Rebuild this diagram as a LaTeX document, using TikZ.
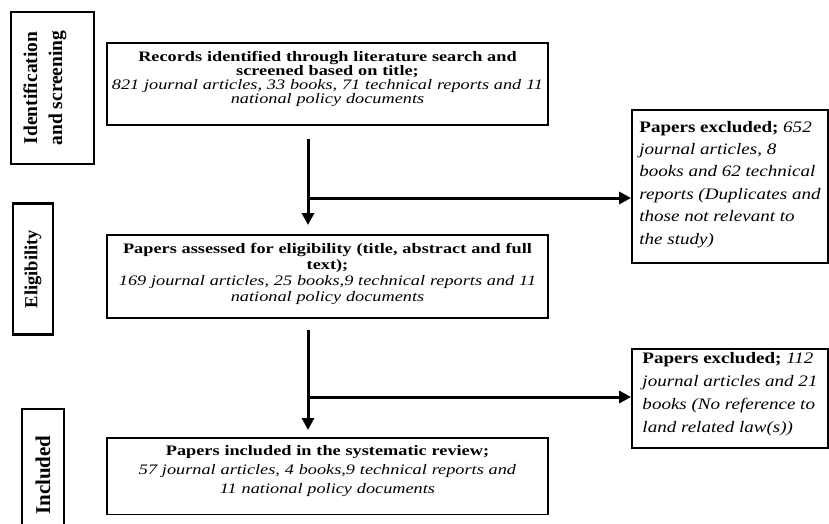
\documentclass[tikz,border=0pt]{standalone}
\usepackage{fontspec}
\setmainfont{Liberation Serif}
\newfontfamily\stepfont{Liberation Serif}[FakeStretch=1.26]
\newfontfamily\exclfont{Liberation Serif}[FakeStretch=1.19]
\usetikzlibrary{arrows.meta}

\begin{document}
\begin{tikzpicture}[x=1pt, y=-1pt, line join=miter, >={Triangle[length=12pt, width=12pt]},
  stagebox/.style={draw, line width=2.4pt, rotate=90, align=center, inner sep=0pt},
  flowbox/.style={draw, line width=1.8pt, anchor=north, text width=437pt, inner xsep=2pt,
    inner ysep=8pt, align=center},
  exclbox/.style={draw, line width=1.8pt, anchor=north, minimum width=196pt, align=left,
    font=\exclfont\fontsize{16}{22.4}\selectfont},
  flow/.style={->, line width=3pt}]

  % ===== Frame =====
  \useasboundingbox (0,0) rectangle (829,523);

  % ===== Stage labels =====
  \node[stagebox, minimum width=152pt, minimum height=83pt, inner ysep=12.5pt, text depth=19.5pt,
        font=\bfseries\fontsize{19.5}{25}\selectfont] (idstage) at (52.5,88)
       {Identification\\and screening};
  \node[stagebox, minimum width=131pt, minimum height=40pt,
        font=\bfseries\fontsize{18.5}{22}\selectfont] (elstage) at (33,269) {Eligibility};
  \node[stagebox, minimum width=132pt, minimum height=42pt,
        font=\bfseries\fontsize{21}{25}\selectfont] (instage) at (43,475) {Included};

  % ===== Flow boxes =====
  \node[flowbox, text depth=56pt, font=\stepfont\fontsize{14.5}{14.2}\selectfont] (recbox) at (327.5,42)
       {\textbf{Records identified through literature search and}\\
        \textbf{screened based on title;}\\
        \textit{821 journal articles, 33 books, 71 technical reports and 11}\\
        \textit{national policy documents}};
  \node[flowbox, text depth=56.5pt, font=\stepfont\fontsize{14.5}{16}\selectfont] (assbox) at (327.5,234)
       {\textbf{Papers assessed for eligibility (title, abstract and full}\\
        \textbf{text);}\\
        \textit{169 journal articles, 25 books,9 technical reports and 11}\\
        \textit{national policy documents}};
  \node[flowbox, text depth=50.5pt, font=\stepfont\fontsize{14.5}{19}\selectfont] (incbox) at (327.5,437)
       {\textbf{Papers included in the systematic review;}\\
        \textit{57 journal articles, 4 books,9 technical reports and}\\
        \textit{11 national policy documents}};

  % ===== Exclusions =====
  \node[exclbox, inner ysep=11pt, text depth=8pt] (exclA) at (730,109)
       {\textbf{Papers excluded;} \textit{652}\\
        \textit{journal articles, 8}\\
        \textit{books and 62 technical}\\
        \textit{reports (Duplicates and}\\
        \textit{those not relevant to}\\
        \textit{the study)}};
  \node[exclbox, inner ysep=3pt, text depth=12pt,
        font=\exclfont\fontsize{16}{23.3}\selectfont] (exclB) at (730,348)
       {\textbf{Papers excluded;} \textit{112}\\
        \textit{journal articles and 21}\\
        \textit{books (No reference to}\\
        \textit{land related law(s))}};

  % ===== Arrows =====
  \coordinate (spine) at (308,0);
  \coordinate (split1) at (308,198);
  \coordinate (split2) at (308,397);

  \draw[flow, shorten <=13pt, shorten >=9pt] (recbox.south -| spine) -- (assbox.north -| spine);
  \draw[flow] (split1) -- (split1 -| exclA.west);
  \draw[flow, shorten <=11pt, shorten >=7pt] (assbox.south -| spine) -- (incbox.north -| spine);
  \draw[flow] (split2) -- (split2 -| exclB.west);

\end{tikzpicture}
\end{document}
